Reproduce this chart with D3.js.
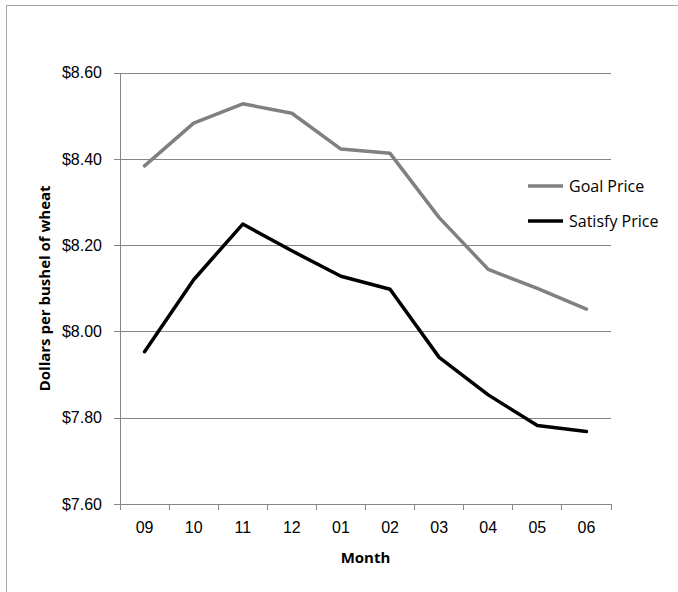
<!DOCTYPE html>
<html>
<head>
<meta charset="utf-8">
<script src="https://cdn.jsdelivr.net/npm/d3@7"></script>
<style>
  html, body { margin: 0; padding: 0; background: #fff; }
  svg { display: block; font-family: "Open Sans", "Noto Sans", sans-serif; }
</style>
</head>
<body>
<svg id="chart" width="678" height="592"></svg>
<script>
// Monthly wheat prices, September through June
const months = ["09", "10", "11", "12", "01", "02", "03", "04", "05", "06"];
const goalPrice = [8.384, 8.483, 8.528, 8.506, 8.423, 8.413, 8.264, 8.144, 8.100, 8.052];
const satisfyPrice = [7.953, 8.120, 8.249, 8.187, 8.128, 8.098, 7.940, 7.853, 7.782, 7.768];
const yTicks = [7.6, 7.8, 8.0, 8.2, 8.4, 8.6];
const seriesNames = ["Goal Price", "Satisfy Price"];

const svg = d3.select("#chart");
const plot = { left: 120, right: 611, top: 72.7, bottom: 504 };
const gridColor = "#868686";
const colors = ["#808080", "#000000"];
const labelSize = "16px";

// Chart frame
svg.append("rect")
  .attr("x", 6.5).attr("y", 5.5)
  .attr("width", 800).attr("height", 800)
  .attr("fill", "none").attr("stroke", "#a6a6a6").attr("stroke-width", 1);

const x = d3.scaleBand().domain(months).range([plot.left, plot.right]).padding(0);
const y = d3.scaleLinear().domain([7.6, 8.6]).range([plot.bottom, plot.top]);

// Horizontal gridlines with left tick marks and dollar labels
const yAxis = d3.axisLeft(y)
  .tickValues(yTicks)
  .tickSize(-(plot.right - plot.left))
  .tickSizeOuter(0)
  .tickPadding(18)
  .tickFormat(d => "$" + d3.format(".2f")(d));

const gy = svg.append("g")
  .attr("transform", `translate(${plot.left},0)`)
  .call(yAxis);
gy.select(".domain").remove();
gy.selectAll(".tick line")
  .attr("x1", -6)
  .attr("stroke", gridColor).attr("stroke-width", 1)
  .attr("shape-rendering", "crispEdges");
gy.selectAll(".tick text")
  .attr("fill", "#000")
  .style("font-size", labelSize);

// Vertical axis line
svg.append("line")
  .attr("x1", plot.left).attr("x2", plot.left)
  .attr("y1", y(8.6)).attr("y2", y(7.6))
  .attr("stroke", gridColor).attr("stroke-width", 1)
  .attr("shape-rendering", "crispEdges");

// Category axis: ticks between months
const xAxis = d3.axisBottom(x).tickSize(0).tickPadding(18);
const gx = svg.append("g")
  .attr("transform", `translate(0,${plot.bottom})`)
  .call(xAxis);
gx.select(".domain")
  .attr("stroke", gridColor)
  .attr("d", `M${plot.left},0H${plot.right}`)
  .attr("shape-rendering", "crispEdges");
gx.selectAll(".tick text")
  .attr("fill", "#000")
  .style("font-size", labelSize);

const boundaries = months.map(m => x(m)).concat([x(months[months.length - 1]) + x.bandwidth()]);
gx.selectAll(".bound")
  .data(boundaries)
  .enter().append("line")
  .attr("class", "bound")
  .attr("x1", d => d).attr("x2", d => d)
  .attr("y1", 0).attr("y2", 6)
  .attr("stroke", gridColor).attr("stroke-width", 1)
  .attr("shape-rendering", "crispEdges");

// Price lines
const line = d3.line()
  .x((d, i) => x(months[i]) + x.bandwidth() / 2)
  .y(d => y(d));

[goalPrice, satisfyPrice].forEach((vals, k) => {
  svg.append("path")
    .datum(vals)
    .attr("d", line)
    .attr("fill", "none")
    .attr("stroke", colors[k])
    .attr("stroke-width", 3.5)
    .attr("stroke-linejoin", "round")
    .attr("stroke-linecap", "round");
});

// Legend
const legend = svg.append("g").attr("transform", "translate(528,186)");
seriesNames.forEach((name, k) => {
  const row = legend.append("g").attr("transform", `translate(0,${k * 35})`);
  row.append("line")
    .attr("x1", 0).attr("x2", 35)
    .attr("y1", 0).attr("y2", 0)
    .attr("stroke", colors[k]).attr("stroke-width", 3.5);
  row.append("text")
    .attr("x", 41).attr("y", 0)
    .attr("dy", "0.35em")
    .style("font-size", labelSize)
    .text(name);
});

// Axis titles
svg.append("text")
  .attr("x", (plot.left + plot.right) / 2)
  .attr("y", 563)
  .attr("text-anchor", "middle")
  .style("font-size", "15px")
  .style("font-weight", "bold")
  .text("Month");

svg.append("text")
  .attr("transform", `translate(50,${(plot.top + plot.bottom) / 2}) rotate(-90)`)
  .attr("text-anchor", "middle")
  .style("font-size", "15px")
  .style("font-weight", "bold")
  .text("Dollars per bushel of wheat");
</script>
</body>
</html>
